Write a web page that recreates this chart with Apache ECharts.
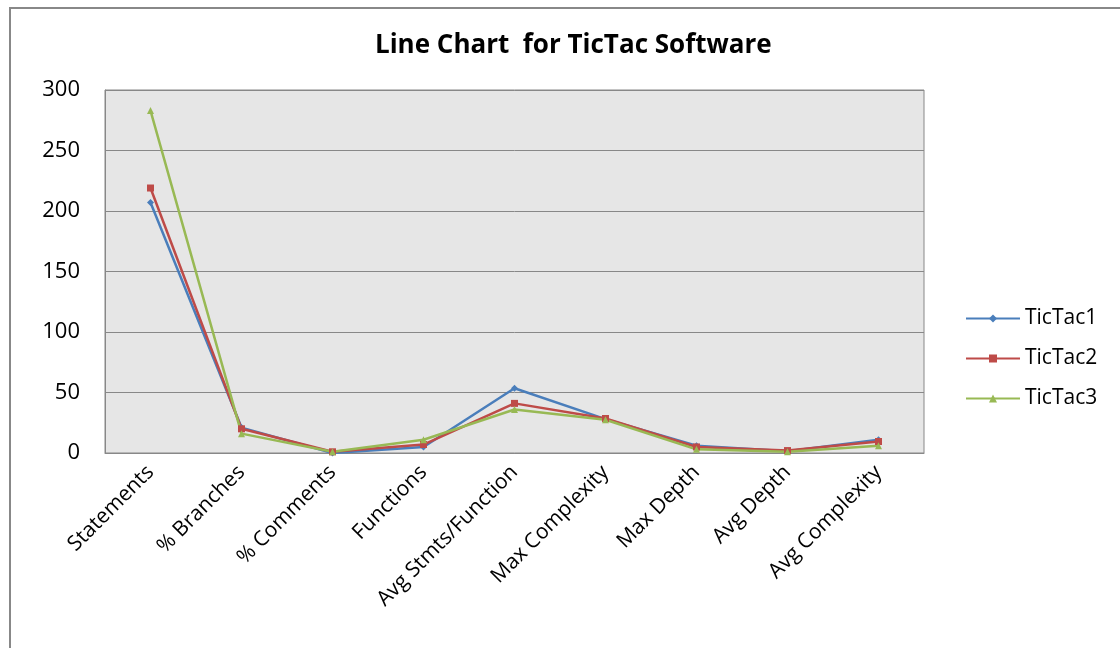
<!DOCTYPE html>
<html><head><meta charset="utf-8">
<script src="https://cdn.jsdelivr.net/npm/echarts@6/dist/echarts.min.js"></script>
<style>html,body{margin:0;padding:0;background:#fff}#c{width:1120px;height:648px}</style>
</head><body><div id="c"></div>
<script>
var categories = ['Statements','% Branches','% Comments','Functions','Avg Stmts/Function','Max Complexity','Max Depth','Avg Depth','Avg Complexity'];
var tictac1 = [207, 21, 0, 5, 53.5, 28, 6, 1.5, 11];
var tictac2 = [219, 20, 1, 7, 41, 28.5, 5, 2, 9.5];
var tictac3 = [283, 16, 1, 11, 36, 27.5, 3, 1, 6];
var yTicks = [0, 50, 100, 150, 200, 250, 300];

var chart = echarts.init(document.getElementById('c'));
var font = '"Open Sans", sans-serif';
function s(name, data, color, symbol, size) {
  return { name: name, type: 'line', data: data, symbol: symbol, symbolSize: size,
    itemStyle: { color: color }, lineStyle: { color: color, width: 2.5 }, animation: false };
}
chart.setOption({
  animation: false,
  backgroundColor: '#fff',
  graphic: [{ type: 'rect', shape: { x: 10, y: 8, width: 1130, height: 660 },
    style: { fill: 'none', stroke: '#888', lineWidth: 2 }, silent: true, z: -1 }],
  title: { text: 'Line Chart  for TicTac Software', left: 370, top: 28,
    textStyle: { fontFamily: font, fontSize: 26, fontWeight: 'bold', color: '#000' } },
  grid: { left: 105, right: 196, top: 90, bottom: 195, show: true, backgroundColor: '#e6e6e6', borderColor: '#888', borderWidth: 1 },
  legend: { orient: 'vertical', left: 960, top: 303, itemGap: 19, itemWidth: 54, itemHeight: 10,
    textStyle: { fontFamily: font, fontSize: 21, color: '#000' },
    data: ['TicTac1','TicTac2','TicTac3'] },
  xAxis: { type: 'category', data: categories, boundaryGap: true,
    axisLine: { lineStyle: { color: '#888' } }, axisTick: { show: false },
    axisLabel: { rotate: 45, interval: 0, margin: 16, fontFamily: font, fontSize: 21, color: '#000' } },
  yAxis: { type: 'value', min: 0, max: 300, interval: 50,
    axisLine: { show: true, lineStyle: { color: '#888' } }, axisTick: { show: false },
    splitLine: { lineStyle: { color: '#888', width: 1 } },
    axisLabel: { margin: 25, fontFamily: font, fontSize: 22, color: '#000',
      formatter: function (v) { return yTicks.indexOf(v) >= 0 ? String(v) : ''; } } },
  series: [
    s('TicTac1', tictac1, '#4a7ebb', 'diamond', 7),
    s('TicTac2', tictac2, '#be4b48', 'rect', 7),
    s('TicTac3', tictac3, '#98b954', 'triangle', 7)
  ]
});
</script></body></html>
